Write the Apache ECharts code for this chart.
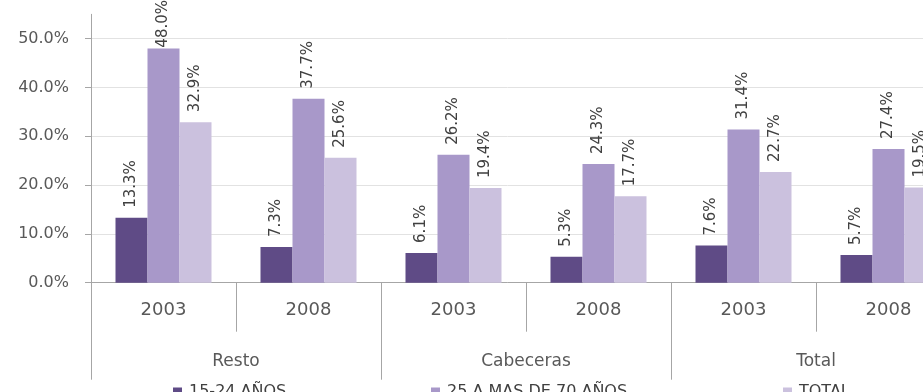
<!DOCTYPE html>
<html>
<head>
<meta charset="utf-8">
<script src="https://cdn.jsdelivr.net/npm/echarts@6/dist/echarts.min.js"></script>
<style>
  html, body { margin: 0; padding: 0; background: #ffffff; }
  #chart { width: 923px; height: 392px; }
</style>
</head>
<body>
<div id="chart"></div>
<script>
// Categories: outer groups and the year inside each group
const groups = ['Resto', 'Cabeceras', 'Total'];
const years = ['2003', '2008', '2003', '2008', '2003', '2008'];

// Series (percent)
const seriesNames = ['15-24 AÑOS', '25 A MAS DE 70 AÑOS', 'TOTAL'];
const youth = [13.3, 7.3, 6.1, 5.3, 7.6, 5.7];
const adults = [48.0, 37.7, 26.2, 24.3, 31.4, 27.4];
const overall = [32.9, 25.6, 19.4, 17.7, 22.7, 19.5];

// Value axis ticks (percent)
const yMin = 0;
const yMax = 55;
const yStep = 10;

const colors = ['#5f4b86', '#a898c9', '#cbc1de'];
const axisGray = '#a6a6a6';
const textGray = '#595959';
const font = 'DejaVu Sans';
const labelSize = 15;
const labelGap = 10;

const pct = v => Number(v).toFixed(1) + '%';

// measure a value label's length so labels near the top edge can be tucked down
const measureCtx = document.createElement('canvas').getContext('2d');
measureCtx.font = labelSize + 'px "' + font + '"';
const labelLength = v => measureCtx.measureText(pct(v)).width;

function barSeries(name, values, color) {
  return {
    name: name,
    type: 'bar',
    data: values.slice(),
    barWidth: 32,
    barGap: '0%',
    itemStyle: { color: color },
    label: {
      show: true,
      position: 'top',
      rotate: 90,
      align: 'left',
      verticalAlign: 'middle',
      distance: labelGap,
      fontFamily: font,
      fontSize: labelSize,
      color: '#404040',
      formatter: p => pct(p.value)
    }
  };
}

function legendAt(name, left) {
  return {
    data: [name],
    left: left,
    top: 379,
    icon: 'rect',
    itemWidth: 9,
    itemHeight: 9,
    itemGap: 0,
    selectedMode: false,
    textStyle: { fontFamily: font, fontSize: 16, color: '#404040', padding: [0, 0, 0, 2] }
  };
}

const chart = echarts.init(document.getElementById('chart'), null, { renderer: 'canvas' });

const valueSets = [youth, adults, overall];

chart.setOption({
  animation: false,
  backgroundColor: '#ffffff',
  color: colors,
  grid: {
    left: 91, top: 14.3, width: 870, height: 268.4,
    containLabel: false,
    outerBoundsMode: 'none'
  },
  legend: [
    legendAt(seriesNames[0], 168),
    legendAt(seriesNames[1], 426),
    legendAt(seriesNames[2], 778)
  ],
  xAxis: [
    {
      type: 'category',
      position: 'bottom',
      data: years,
      axisLine: { show: true, lineStyle: { color: axisGray, width: 1 } },
      axisTick: { show: true, interval: 0, length: 49, lineStyle: { color: axisGray } },
      axisLabel: { interval: 0, margin: 19, fontFamily: font, fontSize: 18, color: textGray },
      splitLine: { show: false }
    },
    {
      type: 'category',
      position: 'bottom',
      data: groups,
      axisLine: { show: false },
      axisTick: { show: true, interval: 0, length: 97, lineStyle: { color: axisGray } },
      axisLabel: { interval: 0, margin: 70, fontFamily: font, fontSize: 17, color: textGray },
      splitLine: { show: false }
    }
  ],
  yAxis: {
    type: 'value',
    min: yMin,
    max: yMax,
    interval: yStep,
    axisLine: { show: true, lineStyle: { color: axisGray, width: 1 } },
    axisTick: { show: true, length: 6, lineStyle: { color: axisGray } },
    axisLabel: {
      margin: 22,
      fontFamily: font,
      fontSize: 16,
      color: textGray,
      showMaxLabel: false,
      formatter: v => (v % yStep === 0 ? pct(v) : '')
    },
    splitLine: { show: true, showMaxLine: false, lineStyle: { color: '#e2e2e2', width: 1 } }
  },
  series: valueSets.map((vals, i) => barSeries(seriesNames[i], vals, colors[i]))
});

// Labels that would run past the top edge sit closer to their bar
chart.setOption({
  series: valueSets.map(vals => ({
    data: vals.map((v, idx) => {
      const top = chart.convertToPixel({ gridIndex: 0 }, [idx, v])[1];
      const room = top - labelLength(v);
      if (room - labelGap < 0) {
        return { value: v, label: { distance: Math.max(0, room) } };
      }
      return v;
    })
  }))
});
</script>
</body>
</html>
